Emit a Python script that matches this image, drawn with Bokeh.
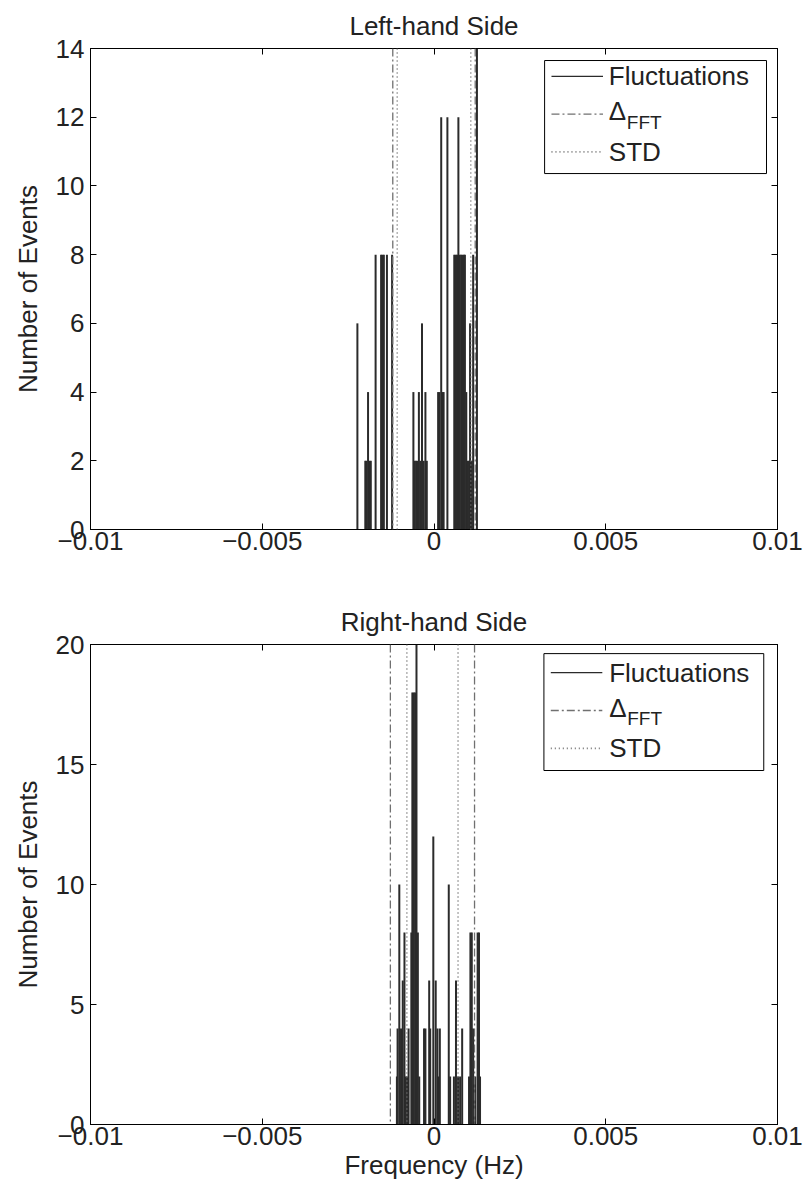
from bokeh.plotting import figure
from bokeh.layouts import column
from bokeh.models import Range1d, Span, Label, LinearAxis, FixedTicker, BoxAnnotation
from bokeh.embed import file_html
from bokeh.resources import INLINE

FONT = "Liberation Sans"
FS = "26px"

# ---------------- data ----------------
x_ticks = [-0.01, -0.005, 0.0, 0.005, 0.01]
x_tick_labels = ["\u22120.01", "\u22120.005", "0", "0.005", "0.01"]

# Left-hand side histogram (frequency in Hz, number of events)
left_freq = [-0.00223, -0.00200, -0.00197, -0.00192, -0.00188, -0.00184,
             -0.00170, -0.00154, -0.00150, -0.00146, -0.00137, -0.00122,
             -0.00060, -0.00056, -0.00052, -0.00048, -0.00044, -0.00040,
             -0.00035, -0.00030, -0.00025, -0.00021,
             0.00012, 0.00016, 0.00021, 0.00025, 0.00028, 0.00039,
             0.00059, 0.00063, 0.00067, 0.00071, 0.00075, 0.00079,
             0.00083, 0.00087, 0.00090, 0.00094, 0.00098, 0.00102,
             0.00105, 0.00110, 0.00114, 0.00125]
left_count = [6, 2, 2, 4, 2, 2,
              8, 8, 8, 8, 8, 8,
              4, 2, 2, 2, 4, 2,
              6, 2, 4, 2,
              4, 4, 12, 4, 4, 12,
              8, 8, 8, 12, 8, 8,
              8, 8, 8, 4, 2, 2,
              6, 2, 8, 15]
left_delta = [-0.00120, 0.00120]
left_std = [-0.00107, 0.00107]
left_yticks = [0, 2, 4, 6, 8, 10, 12, 14]

# Right-hand side histogram
right_freq = [-0.00108, -0.00106, -0.00101, -0.00096, -0.00091, -0.00086,
              -0.00082, -0.00078, -0.00074, -0.00066, -0.00063, -0.00059,
              -0.00055, -0.00051, -0.00047, -0.00043,
              -0.00029, -0.00025, -0.00014, -0.00011, -0.00002,
              0.00005, 0.00010, 0.00014, 0.00017,
              0.00043, 0.00047, 0.00058, 0.00064, 0.00070, 0.00076, 0.00082,
              0.00102, 0.00106, 0.00110, 0.00114, 0.00120, 0.00127, 0.00131, 0.00134]
right_count = [2, 4, 10, 4, 6, 8,
               2, 2, 4, 8, 18, 18,
               18, 21, 8, 2,
               4, 4, 6, 4, 12,
               6, 4, 2, 4,
               10, 2, 2, 6, 2, 2, 4,
               2, 8, 8, 4, 2, 8, 8, 2]
right_delta = [-0.00127, 0.00118]
right_std = [-0.00079, 0.00070]
right_yticks = [0, 5, 10, 15, 20]

legend_labels = ["Fluctuations", "\u0394", "STD"]
legend_sub = "FFT"

BAR_COLOR = "#2b2b2b"
DELTA_COLOR = "#707070"
STD_COLOR = "#707070"
TEXT_COLOR = "#222222"


def hidden_axis(ticks):
    return LinearAxis(ticker=FixedTicker(ticks=ticks), major_label_text_color=None,
                      major_label_text_font_size="1px", major_label_standoff=0,
                      major_tick_in=6, major_tick_out=0,
                      minor_tick_line_color=None, axis_line_color="black")


def make_panel(title, freqs, counts, deltas, stds, ymax, yticks, height,
               border, xlabel=None, legend_box=None, legend_rows=None):
    bl, br, bt, bb = border
    p = figure(width=809, height=height, output_backend="svg", toolbar_location=None,
               x_range=Range1d(-0.01, 0.01), y_range=Range1d(0, ymax),
               min_border_left=bl, min_border_right=br, min_border_top=bt,
               min_border_bottom=bb, title=title)
    p.grid.visible = False
    p.background_fill_color = "white"
    p.border_fill_color = "white"
    p.outline_line_color = "black"
    p.outline_line_width = 1
    p.title.align = "center"
    p.title.text_font = FONT
    p.title.text_font_size = FS
    p.title.text_font_style = "normal"
    p.title.text_color = TEXT_COLOR
    p.title.standoff = 16

    for ax in [p.xaxis[0], p.yaxis[0]]:
        ax.major_tick_in = 6
        ax.major_tick_out = 0
        ax.minor_tick_line_color = None
        ax.axis_line_color = "black"
        ax.major_label_text_font = FONT
        ax.major_label_text_font_size = FS
        ax.major_label_text_color = TEXT_COLOR
        ax.axis_label_text_font = FONT
        ax.axis_label_text_font_size = FS
        ax.axis_label_text_font_style = "normal"
        ax.axis_label_text_color = TEXT_COLOR
    p.xaxis[0].ticker = FixedTicker(ticks=x_ticks)
    p.xaxis[0].major_label_overrides = {t: s for t, s in zip(x_ticks, x_tick_labels)}
    p.xaxis[0].major_label_standoff = 2
    p.yaxis[0].ticker = FixedTicker(ticks=yticks)
    p.yaxis[0].major_label_standoff = 6
    p.yaxis[0].axis_label = "Number of Events"
    p.yaxis[0].axis_label_standoff = 10
    if xlabel:
        p.xaxis[0].axis_label = xlabel
        p.xaxis[0].axis_label_standoff = 2

    # mirrored box ticks (top and right)
    p.add_layout(hidden_axis(x_ticks), "above")
    p.add_layout(hidden_axis(yticks), "right")

    # histogram bars as thin stems
    p.segment(x0=freqs, y0=[0] * len(freqs), x1=freqs, y1=counts,
              line_color=BAR_COLOR, line_width=2)

    for d in deltas:
        p.add_layout(Span(location=d, dimension="height", line_color=DELTA_COLOR,
                          line_width=1.3, line_dash="8 3 2 3"))
    for s in stds:
        p.add_layout(Span(location=s, dimension="height", line_color=STD_COLOR,
                          line_width=1.6, line_dash="1 3"))

    # legend (box + samples + labels with FFT subscript)
    x0, x1, y0, y1 = legend_box
    p.add_layout(BoxAnnotation(left=x0, right=x1, bottom=y0, top=y1,
                               fill_color="white", fill_alpha=1.0, level="underlay",
                               line_color="black", line_width=1, line_alpha=1.0))
    sx0, sx1, tx, rows = legend_rows
    p.segment(x0=[sx0], y0=[rows[0]], x1=[sx1], y1=[rows[0]], line_color=BAR_COLOR,
              line_width=1.3)
    p.segment(x0=[sx0], y0=[rows[1]], x1=[sx1], y1=[rows[1]], line_color=DELTA_COLOR,
              line_width=1.3, line_dash="8 3 2 3")
    p.segment(x0=[sx0], y0=[rows[2]], x1=[sx1], y1=[rows[2]], line_color=STD_COLOR,
              line_width=1.6, line_dash="1 3")
    common = dict(text_font=FONT, text_color=TEXT_COLOR, text_baseline="middle")
    p.add_layout(Label(x=tx, y=rows[0], text=legend_labels[0], text_font_size=FS, **common))
    p.add_layout(Label(x=tx, y=rows[1], text=legend_labels[1], text_font_size=FS,
                       y_offset=3, **common))
    p.add_layout(Label(x=tx, y=rows[1], text=legend_sub, text_font_size="19px",
                       x_offset=18, y_offset=-8, **common))
    p.add_layout(Label(x=tx, y=rows[2], text=legend_labels[2], text_font_size=FS, **common))
    return p


top = make_panel("Left-hand Side", left_freq, left_count, left_delta, left_std,
                 14, left_yticks, 590, (90, 26, 45, 61),
                 legend_box=(0.00322, 0.00968, 10.36, 13.65),
                 legend_rows=(0.00342, 0.00492, 0.00509, [13.19, 12.09, 10.99]))
bottom = make_panel("Right-hand Side", right_freq, right_count, right_delta, right_std,
                    20, right_yticks, 599, (83, 32, 54, 65), xlabel="Frequency (Hz)",
                    legend_box=(0.00320, 0.00960, 14.75, 19.62),
                    legend_rows=(0.00340, 0.00490, 0.00510, [18.83, 17.25, 15.67]))

layout = column(top, bottom, spacing=0)
open("out.html", "w").write(file_html(layout, INLINE))
